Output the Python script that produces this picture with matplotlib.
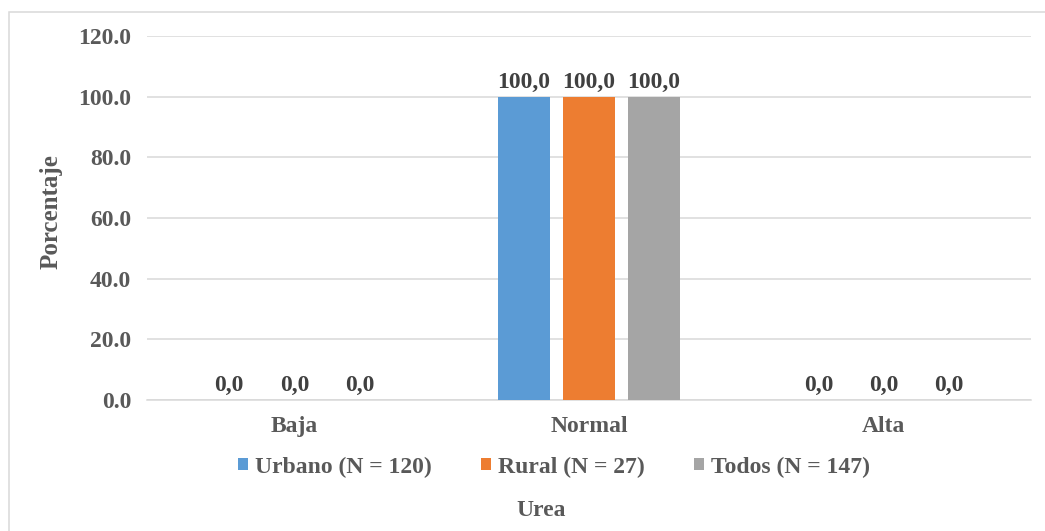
import matplotlib
matplotlib.use("Agg")
import matplotlib.pyplot as plt
import numpy as np
from matplotlib.patches import Rectangle

categories = ["Baja", "Normal", "Alta"]
series_names = ["Urbano (N = 120)", "Rural (N = 27)", "Todos (N = 147)"]
urbano = [0.0, 100.0, 0.0]
rural = [0.0, 100.0, 0.0]
todos = [0.0, 100.0, 0.0]
colors = ["#5B9BD5", "#ED7D31", "#A5A5A5"]
yticks = [0, 20, 40, 60, 80, 100, 120]

plt.rcParams["font.family"] = ["Liberation Serif", "DejaVu Serif"]
plt.rcParams["font.weight"] = "bold"
text_color = "#595959"
fs = 17

W, H = 1045, 531
fig = plt.figure(figsize=(W / 100, H / 100), dpi=100)
ax = fig.add_axes([147 / W, 1 - 400 / H, (1031 - 147) / W, (400 - 36) / H])

x = np.arange(len(categories))
width = 0.177
step = 0.221
for i, (vals, name, col) in enumerate(zip([urbano, rural, todos], series_names, colors)):
    pos = x + (i - 1) * step
    ax.bar(pos, vals, width=width, color=col, label=name, zorder=3)
    for xp, v in zip(pos, vals):
        ax.annotate(f"{v:.1f}".replace(".", ","), (xp, v), xytext=(0, 6.2),
                    textcoords="offset points", ha="center", va="baseline",
                    fontsize=fs, fontweight="bold", color="#404040", zorder=4)

ax.set_xlim(-0.5, 2.5)
ax.set_ylim(0, 120)
ax.set_yticks(yticks)
ax.set_yticklabels([f"{t:.1f}" for t in yticks])
ax.set_xticks(x)
ax.set_xticklabels(categories)
ax.tick_params(axis="both", length=0, labelsize=fs, labelcolor=text_color)
ax.tick_params(axis="y", pad=11.5)
ax.tick_params(axis="x", pad=11.5)
for lbl in ax.get_xticklabels() + ax.get_yticklabels():
    lbl.set_fontweight("bold")
ax.grid(axis="y", color="#D9D9D9", linewidth=1.1, zorder=0)
for s in ["top", "right", "left"]:
    ax.spines[s].set_visible(False)
ax.spines["bottom"].set_color("#D9D9D9")
ax.spines["bottom"].set_linewidth(1.1)

fig.text(51 / W, 1 - 212 / H, "Porcentaje", rotation=90, ha="center", va="center",
         fontsize=18, fontweight="bold", color=text_color)
fig.text(541 / W, 1 - 511 / H, "Urea", ha="center", va="center", fontsize=fs,
         fontweight="bold", color=text_color)

leg = fig.legend(loc="center", bbox_to_anchor=(554 / W, 1 - 467 / H), ncol=3,
                 frameon=False, fontsize=fs, handlelength=0.42, handleheight=0.42,
                 handletextpad=0.28, columnspacing=2.1, borderpad=0, borderaxespad=0)
for t in leg.get_texts():
    t.set_color(text_color)
    t.set_fontweight("bold")

fig.patches.append(Rectangle((9 / W, -0.05), 1.1, 1 - 12 / H + 0.05,
                             transform=fig.transFigure, fill=False,
                             edgecolor="#D9D9D9", linewidth=1.1))

fig.savefig("out.png", dpi=100)
